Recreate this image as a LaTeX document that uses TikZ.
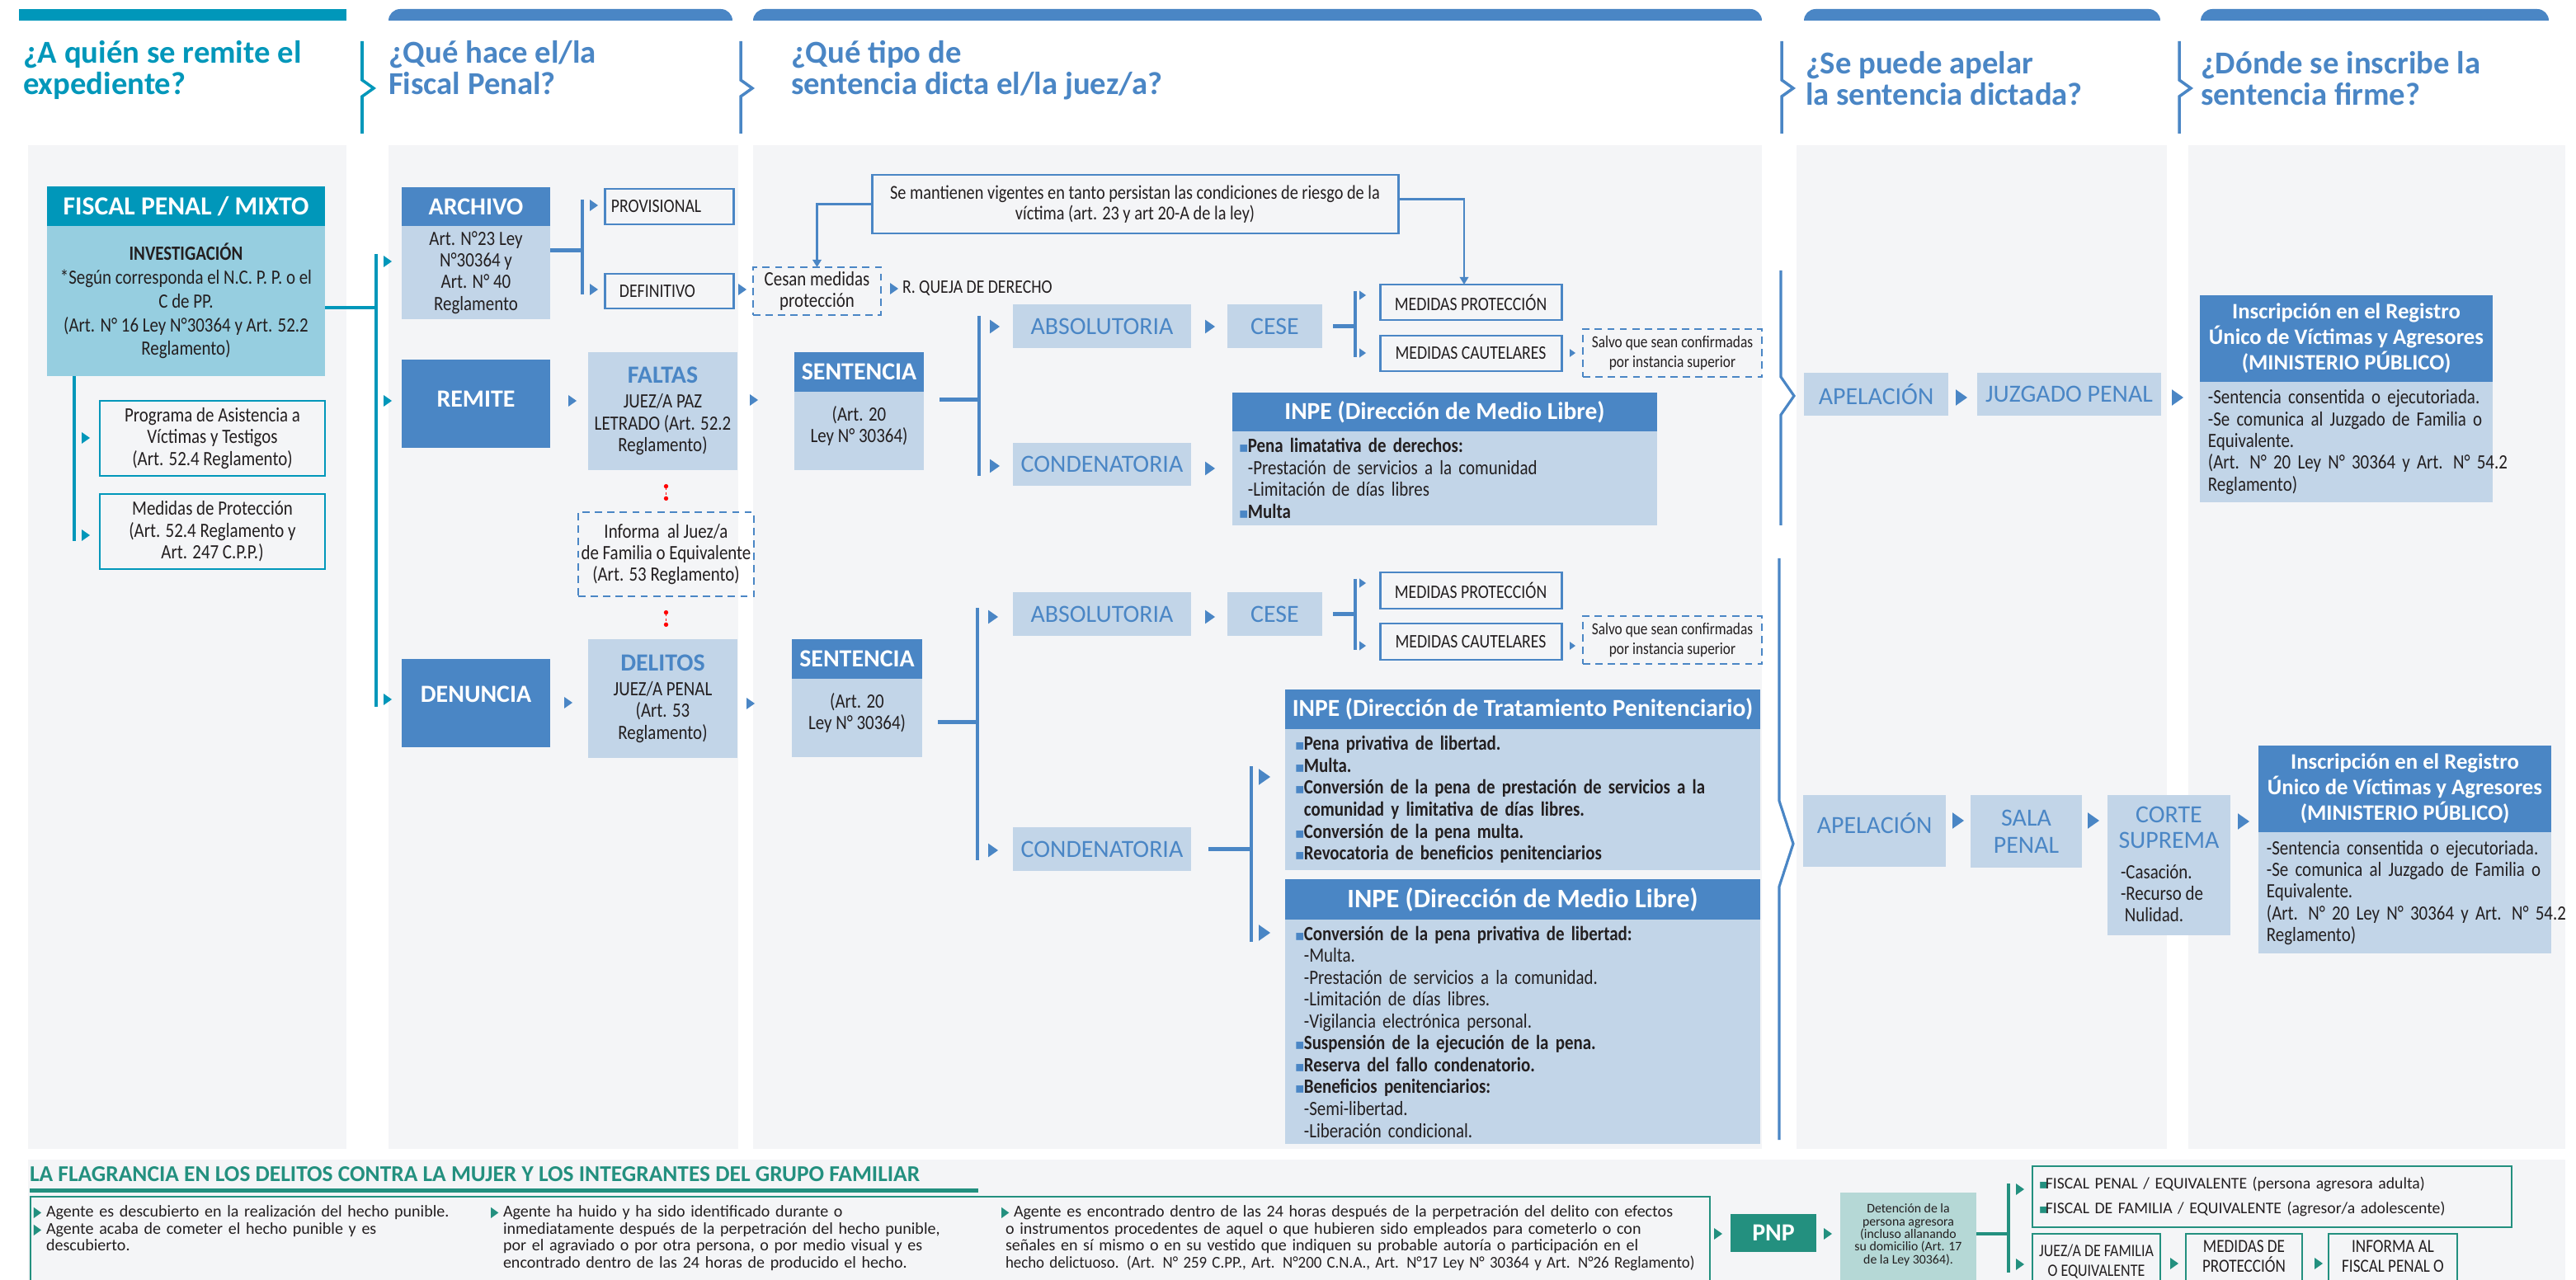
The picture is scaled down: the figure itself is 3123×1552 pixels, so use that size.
\documentclass[tikz,border=0pt]{standalone}
\usepackage{fontspec}
\usepackage{graphicx}
\setmainfont{Carlito}
\newfontfamily\cnd{Carlito}[FakeStretch=0.85]
\newfontfamily\symf{DejaVu Sans}
\usetikzlibrary{arrows.meta,calc}

\definecolor{tea}{HTML}{0097BA}
\definecolor{ltea}{HTML}{96CEE0}
\definecolor{blu}{HTML}{4A86C5}
\definecolor{lblu}{HTML}{C2D5E8}
\definecolor{pnl}{HTML}{F4F5F7}
\definecolor{grn}{HTML}{23907F}
\definecolor{lgrn}{HTML}{B5D8D6}
\definecolor{ink}{HTML}{231F20}

% bullets and stretched lines
\newcommand{\sq}{\makebox[0.11cm][l]{\symf\color{blu}\fontsize{5}{5}\selectfont ▪}}
\newcommand{\gq}{\makebox[0.08cm][l]{\symf\color{grn}\fontsize{4.5}{4.5}\selectfont ▪}}
\newcommand{\tb}{\makebox[0.15cm][l]{\symf\color{grn}\fontsize{5}{5}\selectfont\scalebox{0.7}[1]{▶}}}
\newcommand{\jl}[2]{\makebox[\dimexpr\linewidth-#1\relax][s]{#2}}

\begin{document}
\begin{tikzpicture}[x=0.01cm, y=-0.01cm,
  every node/.style={inner sep=0pt, outer sep=0pt, text=ink},
  spn/.style n args={4}{anchor=north west, at={(#1,#2)},
    minimum width={(#3-#1)*0.01cm}, minimum height={(#4-#2)*0.01cm}},
  ttl/.style={anchor=north west, align=left, font=\bfseries\fontsize{11}{10.8}\selectfont},
  hd/.style={fill=blu, text=white, align=center, font=\bfseries\fontsize{8.5}{9}\selectfont},
  bd/.style={fill=lblu, align=center, font=\cnd\fontsize{7}{7.5}\selectfont},
  lab/.style={fill=lblu, text=blu, align=center, font=\fontsize{8.5}{9.4}\selectfont},
  obox/.style={draw=blu, line width=0.85pt, align=center, font=\cnd\fontsize{6.6}{7}\selectfont},
  dbox/.style={obox, line width=0.7pt, dash pattern=on 2.5pt off 1.8pt},
  gbox/.style={draw=grn, line width=0.7pt},
  ftxt/.style={anchor=north west, align=left, font=\fontsize{5.7}{5.83}\selectfont},
  brk/.style={blu, line width=1.15pt},
  tbrk/.style={tea, line width=1.4pt},
  gbrk/.style={grn, line width=1.15pt},
  conn/.style={blu, line width=0.6pt, -{Triangle[length=2.6pt,width=3pt]}},
  rlink/.style={red, line width=0.35pt, dash pattern=on 0.8pt off 0.8pt,
    arrows={Circle[length=1.5pt]-Circle[length=1.5pt]}},
  tri/.pic={\fill (-10,-7) -- (0,0) -- (-10,7) -- cycle;}
]
\useasboundingbox (0,0) rectangle (3123,1552);
\clip (0,0) rectangle (3123,1552);
\fill[white] (0,0) rectangle (3123,1552);

% panels and top bars
\fill[pnl] (34,176) rectangle (420,1393);
\fill[pnl] (471,176) rectangle (895,1393);
\fill[pnl] (913,176) rectangle (2136,1393);
\fill[pnl] (2178,176) rectangle (2627,1393);
\fill[pnl] (2653,176) rectangle (3110,1393);
\fill[pnl] (34,1406) rectangle (3110,1560);
\fill[tea] (23,11) rectangle (420,25);
\foreach \a/\b in {471/888, 913/2136, 2187/2619, 2668/3090}
  \fill[blu, rounded corners=4pt] (\a,25) -- (\a,11) -- (\b,11) [sharp corners] -- (\b,25) -- cycle;
\draw[tea, line width=1pt] (439,50) -- (439,97) -- (453,107) -- (439,117) -- (439,162);
\foreach \a in {898,2160,2642}
  \draw[blu, line width=1pt] (\a,50) -- (\a,97) -- (\a+14,107) -- (\a,117) -- (\a,162);

% column titles
\node[ttl, text=tea] (q1) at (28,49) {¿A quién se remite el\\expediente?};
\node[ttl, text=blu] (q2) at (471,49) {¿Qué hace el/la\\Fiscal Penal?};
\node[ttl, text=blu] (q3) at (959,49) {¿Qué tipo de\\sentencia dicta el/la juez/a?};
\node[ttl, text=blu] (q4) at (2189,62) {¿Se puede apelar\\la sentencia dictada?};
\node[ttl, text=blu] (q5) at (2668,62) {¿Dónde se inscribe la\\sentencia firme?};

% column 1
\node[hd, fill=tea, font=\bfseries\fontsize{9}{10}\selectfont, spn={57}{226}{394}{274}] (fpm) {FISCAL PENAL / MIXTO};
\node[bd, fill=ltea, font=\cnd\fontsize{7}{8.2}\selectfont, spn={57}{274}{394}{456}] (inv)
  {\textbf{INVESTIGACIÓN}\\{}*Según corresponda el N.C. P. P. o el\\C de PP.\\(Art. N° 16 Ley N°30364 y Art. 52.2\\Reglamento)};
\node[obox, draw=tea, font=\cnd\fontsize{7}{7.5}\selectfont, spn={121}{486}{394}{577}] (prog)
  {Programa de Asistencia a\\Víctimas y Testigos\\(Art. 52.4 Reglamento)};
\node[obox, draw=tea, font=\cnd\fontsize{7}{7.5}\selectfont, spn={121}{599}{394}{690}] (mdpr)
  {Medidas de Protección\\(Art. 52.4 Reglamento y\\Art. 247 C.P.P.)};
\coordinate (st) at (90,656);
\draw[tbrk] (inv.south -| st) -- (st);
\pic[color=tea] at (109,531) {tri};
\pic[color=tea] at (109,649) {tri};
\coordinate (tkt) at (456,308);
\coordinate (tkb) at (456,857);
\draw[tbrk] ($(inv.east)+(0,8)$) -- ($(inv.east -| tkt)+(0,8)$);
\draw[tbrk] (tkt) -- (tkb);
\pic[color=tea] at (475,317) {tri};
\pic[color=tea] at (475,486) {tri};
\pic[color=tea] at (475,848) {tri};

% column 2
\node[hd, spn={487}{227}{667}{274}] (arch) {ARCHIVO};
\node[bd, spn={487}{274}{667}{387}] (archb) {Art. N°23 Ley\\N°30364 y\\Art. N° 40\\Reglamento};
\coordinate (s1) at (706,242);
\coordinate (s1b) at (706,357);
\draw[brk] ($(archb.east)+(0,-27)$) -- ++(39,0);
\draw[brk] (s1) -- (s1b);
\pic[color=blu] at (725,249) {tri};
\pic[color=blu] at (725,351) {tri};
\node[obox, align=left, text width=1.4cm, spn={733}{229}{889}{272}] (prov) {PROVISIONAL};
\node[obox, align=left, text width=1.2cm, spn={733}{332}{889}{374}] (defi) {DEFINITIVO};
\pic[color=blu] at (905,351) {tri};

\node[hd, spn={487}{436}{667}{543}] (rem) {REMITE\\[-6pt]\mbox{}};
\pic[color=blu] at (699,486) {tri};
\node[bd, spn={713}{427}{894}{570}] (falt)
  {{\rmfamily\bfseries\color{blu}\fontsize{8.5}{9}\selectfont FALTAS}\\[1pt]JUEZ/A PAZ\\LETRADO (Art. 52.2\\Reglamento)};
\pic[color=blu] at (919,485) {tri};

\node[dbox, font=\cnd\fontsize{7}{7.5}\selectfont, spn={701}{621}{914}{723}] (inf)
  {Informa\ \ al Juez/a\\de Familia o Equivalente\\(Art. 53 Reglamento)};

\node[hd, spn={487}{799}{667}{906}] (denu) {DENUNCIA\\[-3pt]\mbox{}};
\pic[color=blu] at (694,852) {tri};
\node[bd, spn={713}{775}{894}{919}] (deli)
  {{\rmfamily\bfseries\color{blu}\fontsize{8.5}{9}\selectfont DELITOS}\\[1pt]JUEZ/A PENAL\\(Art. 53\\Reglamento)};
\pic[color=blu] at (915,853) {tri};

\draw[rlink, shorten <=0.17cm, shorten >=0.14cm] (falt.south -| inf.north) -- (inf.north);
\draw[rlink, shorten <=0.17cm, shorten >=0.15cm] (inf.south) -- (inf.south |- deli.north);

% column 3, upper branch
\node[obox, font=\cnd\fontsize{6.8}{7}\selectfont, spn={1057}{212}{1695}{283}] (note)
  {Se mantienen vigentes en tanto persistan las condiciones de riesgo de la\\víctima (art. 23 y art 20-A de la ley)};
\node[dbox, font=\cnd\fontsize{7}{7.5}\selectfont, spn={913}{324}{1068}{382}] (cesan) {Cesan medidas\\protección};
\pic[color=blu] at (1089,350) {tri};
\node[anchor=west, font=\cnd\fontsize{6.6}{7}\selectfont] (queja) at (1094,350) {R. QUEJA DE DERECHO};

\node[hd, spn={963}{427}{1120}{475}] (sen1) {SENTENCIA};
\node[bd, spn={963}{475}{1120}{570}] (sen1b) {(Art. 20\\Ley N° 30364)\\[-2.9pt]\mbox{}};
\coordinate (s2) at (1187,383);
\coordinate (s2b) at (1187,577);
\draw[brk] ($(sen1b.east)+(19,-38)$) -- ++(48,0);
\draw[brk] (s2) -- (s2b);
\pic[color=blu, scale=1.2] at (1212,396) {tri};
\pic[color=blu, scale=1.2] at (1212,565) {tri};

\node[lab, spn={1228}{369}{1444}{422}] (abs1) {ABSOLUTORIA};
\pic[color=blu, scale=1.2] at (1473,396) {tri};
\node[lab, spn={1488}{369}{1603}{422}] (ces1) {CESE};
\coordinate (s3) at (1643,353);
\coordinate (s3b) at (1643,433);
\draw[brk] ($(ces1.east)+(13,0)$) -- ++(27,0);
\draw[brk] (s3) -- (s3b);
\pic[color=blu, scale=0.8] at (1656,358) {tri};
\pic[color=blu, scale=0.8] at (1656,428) {tri};
\node[obox, spn={1673}{345}{1893}{388}] (mp1) {MEDIDAS PROTECCIÓN};
\node[obox, spn={1673}{407}{1893}{450}] (mc1) {MEDIDAS CAUTELARES};
\pic[color=blu, scale=0.7] at (1910,428) {tri};
\node[dbox, font=\cnd\fontsize{5.8}{6.6}\selectfont, spn={1919}{399}{2136}{457}] (sal1)
  {Salvo que sean confirmadas\\por instancia superior};

\draw[conn] (note.west) -| (cesan.north);
\draw[conn] ($(note.east)+(0,-6)$) -| ($(mp1.north)+(-8,0)$);

\node[lab, spn={1228}{537}{1444}{589}] (con1) {CONDENATORIA};
\pic[color=blu, scale=1.2] at (1473,568) {tri};
\node[hd, font=\bfseries\fontsize{8.4}{9}\selectfont, spn={1494}{476}{2009}{523}] (inp1) {INPE (Dirección de Medio Libre)};
\node[bd, align=left, text width=4.99cm, spn={1494}{523}{2009}{637}] (inp1b)
  {\sq\textbf{Pena limatativa de derechos:}\\
   \hspace*{0.11cm}-Prestación de servicios a la comunidad\\
   \hspace*{0.11cm}-Limitación de días libres\\
   \sq\textbf{Multa}};

% column 3, lower branch
\node[hd, spn={960}{775}{1118}{823}] (sen2) {SENTENCIA};
\node[bd, spn={960}{823}{1118}{918}] (sen2b) {(Art. 20\\Ley N° 30364)\\[-2.9pt]\mbox{}};
\coordinate (s4) at (1185,737);
\coordinate (s4b) at (1185,1043);
\draw[brk] ($(sen2b.east)+(19,5)$) -- ++(48,0);
\draw[brk] (s4) -- (s4b);
\pic[color=blu, scale=1.2] at (1210,748) {tri};
\pic[color=blu, scale=1.2] at (1210,1031) {tri};

\node[lab, spn={1228}{718}{1444}{771}] (abs2) {ABSOLUTORIA};
\pic[color=blu, scale=1.2] at (1473,748) {tri};
\node[lab, spn={1488}{718}{1603}{771}] (ces2) {CESE};
\coordinate (s5) at (1643,702);
\coordinate (s5b) at (1643,788);
\draw[brk] ($(ces2.east)+(13,0)$) -- ++(27,0);
\draw[brk] (s5) -- (s5b);
\pic[color=blu, scale=0.8] at (1656,707) {tri};
\pic[color=blu, scale=0.8] at (1656,783) {tri};
\node[obox, spn={1673}{694}{1893}{738}] (mp2) {MEDIDAS PROTECCIÓN};
\node[obox, spn={1673}{756}{1893}{800}] (mc2) {MEDIDAS CAUTELARES};
\pic[color=blu, scale=0.7] at (1910,783) {tri};
\node[dbox, font=\cnd\fontsize{5.8}{6.6}\selectfont, spn={1919}{747}{2136}{805}] (sal2)
  {Salvo que sean confirmadas\\por instancia superior};

\node[lab, spn={1228}{1003}{1444}{1056}] (con2) {CONDENATORIA};
\coordinate (s6) at (1517,929);
\coordinate (s6b) at (1517,1142);
\draw[brk] ($(con2.east)+(21,0)$) -- ++(52,0);
\draw[brk] (s6) -- (s6b);
\pic[color=blu, scale=1.4] at (1540,942) {tri};
\pic[color=blu, scale=1.4] at (1540,1131) {tri};

\node[hd, font=\bfseries\fontsize{8.4}{9}\selectfont, spn={1558}{836}{2134}{884}] (inp2) {INPE (Dirección de Tratamiento Penitenciario)};
\node[bd, align=left, text width=5.52cm, font=\cnd\bfseries\fontsize{7}{7.55}\selectfont, spn={1558}{884}{2134}{1055}] (inp2b)
  {\sq Pena privativa de libertad.\\
   \sq Multa.\\
   \sq\jl{0.11cm}{Conversión de la pena de prestación de servicios a la}\\
   \hspace*{0.11cm}comunidad y limitativa de días libres.\\
   \sq Conversión de la pena multa.\\
   \sq Revocatoria de beneficios penitenciarios};
\node[hd, font=\bfseries\fontsize{9.2}{10}\selectfont, spn={1558}{1066}{2134}{1115}] (inp3) {INPE (Dirección de Medio Libre)};
\node[bd, align=left, text width=5.52cm, font=\cnd\fontsize{7}{7.55}\selectfont, spn={1558}{1115}{2134}{1387}] (inp3b)
  {\sq\textbf{Conversión de la pena privativa de libertad:}\\
   \hspace*{0.11cm}-Multa.\\
   \hspace*{0.11cm}-Prestación de servicios a la comunidad.\\
   \hspace*{0.11cm}-Limitación de días libres.\\
   \hspace*{0.11cm}-Vigilancia electrónica personal.\\
   \sq\textbf{Suspensión de la ejecución de la pena.}\\
   \sq\textbf{Reserva del fallo condenatorio.}\\
   \sq\textbf{Beneficios penitenciarios:}\\
   \hspace*{0.11cm}-Semi-libertad.\\
   \hspace*{0.11cm}-Liberación condicional.};

% column 4 and 5, upper
\draw[blu, line width=0.9pt] (2159,328) -- (2159,457) -- (2175,480) -- (2159,503) -- (2159,637);
\node[lab, spn={2187}{452}{2362}{504}] (ap1) {APELACIÓN};
\pic[color=blu, scale=1.4] at (2385,482) {tri};
\node[lab, spn={2397}{452}{2620}{504}] (jzp) {JUZGADO PENAL};
\pic[color=blu, scale=1.4] at (2647,482) {tri};
\node[hd, font=\bfseries\fontsize{7.6}{8.8}\selectfont, spn={2667}{358}{3022}{463}] (ins1)
  {Inscripción en el Registro\\Único de Víctimas y Agresores\\(MINISTERIO PÚBLICO)};
\node[bd, align=left, text width=3.35cm, spn={2667}{463}{3022}{609}] (ins1b)
  {-Sentencia consentida o ejecutoriada.\\
   \jl{0pt}{-Se comunica al Juzgado de Familia o}\\
   Equivalente.\\
   \jl{0pt}{(Art. N° 20 Ley N° 30364 y Art. N° 54.2}\\
   Reglamento)};

% column 4 and 5, lower
\draw[blu, line width=0.9pt] (2157,677) -- (2157,971) -- (2174,1023) -- (2157,1075) -- (2157,1382);
\node[lab, spn={2186}{964}{2359}{1051}] (ap2) {APELACIÓN\\[-4pt]\mbox{}};
\pic[color=blu, scale=1.4] at (2381,995) {tri};
\node[lab, spn={2389}{964}{2524}{1052}] (sala) {SALA\\PENAL};
\pic[color=blu, scale=1.4] at (2545,995) {tri};
\node[lab, spn={2555}{964}{2704}{1134}] (cort) {};
\node[anchor=north, align=center, text=blu, font=\fontsize{8.5}{8.8}\selectfont] (cortt) at ($(cort.north)+(0,14)$) {CORTE\\SUPREMA};
\node[anchor=north west, align=left, font=\cnd\fontsize{7}{7.4}\selectfont] (cortl) at ($(cort.north west)+(16,85)$)
  {-Casación.\\-Recurso de\\\ Nulidad.};
\pic[color=blu, scale=1.4] at (2727,996) {tri};
\node[hd, font=\bfseries\fontsize{7.6}{8.8}\selectfont, spn={2738}{904}{3093}{1009}] (ins2)
  {Inscripción en el Registro\\Único de Víctimas y Agresores\\(MINISTERIO PÚBLICO)};
\node[bd, align=left, text width=3.35cm, spn={2738}{1009}{3093}{1156}] (ins2b)
  {-Sentencia consentida o ejecutoriada.\\
   \jl{0pt}{-Se comunica al Juzgado de Familia o}\\
   Equivalente.\\
   \jl{0pt}{(Art. N° 20 Ley N° 30364 y Art. N° 54.2}\\
   Reglamento)};

% flagrancia
\node[anchor=base west, text=grn, font=\bfseries\fontsize{7.8}{8}\selectfont] (flt) at (36,1432)
  {LA FLAGRANCIA EN LOS DELITOS CONTRA LA MUJER Y LOS INTEGRANTES DEL GRUPO FAMILIAR};
\fill[grn] (36,1441) rectangle (1186,1446);
\node[gbox, spn={37}{1451}{2073}{1640}] (flg) {};
\node[ftxt, text width=5.3cm] (fa) at (41,1462)
  {\tb Agente es descubierto en la realización del hecho punible.\\
   \tb\jl{0.15cm}{Agente acaba de cometer el hecho punible y es}\\
   \hspace*{0.15cm}descubierto.};
\node[ftxt, text width=5.81cm] (fb) at (595,1462)
  {\tb\jl{0.15cm}{Agente ha huido y ha sido identificado durante o}\\
   \hspace*{0.15cm}\jl{0.15cm}{inmediatamente después de la perpetración del hecho punible,}\\
   \hspace*{0.15cm}\jl{0.15cm}{por el agraviado o por otra persona, o por medio visual y es}\\
   \hspace*{0.15cm}encontrado dentro de las 24 horas de producido el hecho.};
\node[ftxt, text width=8.4cm] (fc) at (1214,1462)
  {\tb\jl{0.15cm}{Agente es encontrado dentro de las 24 horas después de la perpetración del delito con efectos}\\
   \hspace*{0.05cm}\jl{0.05cm}{o instrumentos procedentes de aquel o que hubieren sido empleados para cometerlo o con}\\
   \hspace*{0.05cm}\jl{0.05cm}{señales en sí mismo o en su vestido que indiquen su probable autoría o participación en el}\\
   \hspace*{0.05cm}\resizebox{\dimexpr\linewidth-0.05cm\relax}{\height}{hecho delictuoso. (Art. N° 259 C.PP., Art. N°200 C.N.A., Art. N°17 Ley N° 30364 y Art. N°26 Reglamento)}};

\pic[color=grn] at (2088,1496) {tri};
\node[fill=grn, text=white, font=\bfseries\fontsize{8.5}{9}\selectfont, spn={2098}{1472}{2202}{1518}] (pnp) {PNP};
\pic[color=grn] at (2221,1496) {tri};
\node[fill=lgrn, spn={2231}{1446}{2396}{1640}] (det) {};
\node[anchor=north, align=center, font=\fontsize{4.5}{4.34}\selectfont] (dett) at ($(det.north)+(0,14)$)
  {Detención de la\\persona agresora\\(incluso allanando\\su domicilio (Art. 17\\de la Ley 30364).};
\coordinate (s7) at (2435,1435);
\coordinate (s7b) at (2435,1543);
\draw[gbrk] ($(det.north east)+(0,50)$) -- ++(39,0);
\draw[gbrk] (s7) -- (s7b);
\pic[color=grn] at (2454,1442) {tri};
\pic[color=grn] at (2454,1533) {tri};
\node[gbox, align=left, text width=5.65cm, font=\fontsize{5.6}{8.8}\selectfont, spn={2464}{1414}{3045}{1488}] (fisc)
  {\gq FISCAL PENAL / EQUIVALENTE (persona agresora adulta)\\
   \gq FISCAL DE FAMILIA / EQUIVALENTE (agresor/a adolescente)};
\node[gbox, spn={2464}{1496}{2619}{1640}] (jzf) {};
\node[anchor=north, align=center, font=\cnd\fontsize{6}{6.8}\selectfont] (jzft) at ($(jzf.north)+(0,13)$)
  {JUEZ/A DE FAMILIA\\O EQUIVALENTE};
\pic[color=grn] at (2641,1532) {tri};
\node[gbox, spn={2650}{1496}{2791}{1640}] (mdf) {};
\node[anchor=north, align=center, font=\cnd\fontsize{6.4}{6.8}\selectfont] (mdft) at ($(mdf.north)+(0,8)$)
  {MEDIDAS DE\\PROTECCIÓN};
\pic[color=grn] at (2816,1532) {tri};
\node[gbox, spn={2823}{1496}{2979}{1640}] (ifm) {};
\node[anchor=north, align=center, font=\cnd\fontsize{6.4}{6.8}\selectfont] (ifmt) at ($(ifm.north)+(0,8)$)
  {INFORMA AL\\FISCAL PENAL O};
\end{tikzpicture}
\end{document}
